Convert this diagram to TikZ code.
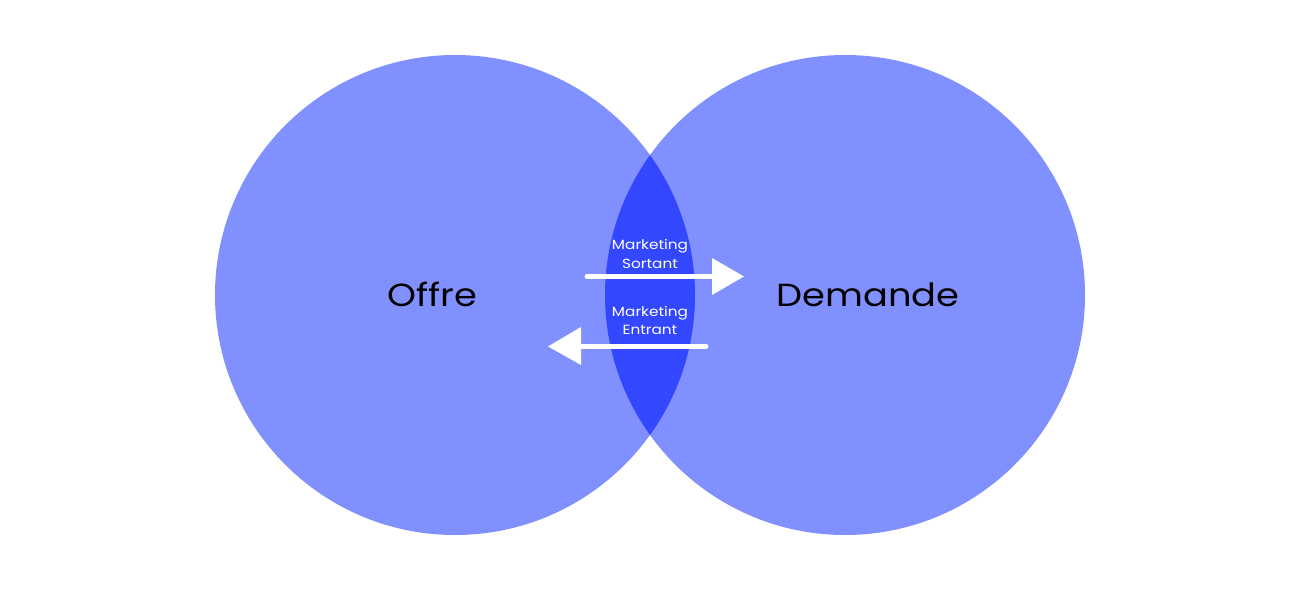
\documentclass[tikz,border=0pt]{standalone}
\usepackage{fontspec}
\setmainfont{Poppins}[FakeStretch=1.15]
\definecolor{circ}{RGB}{128,145,255}
\definecolor{lens}{RGB}{51,71,255}
\begin{document}
\begin{tikzpicture}[x=1pt,y=-1pt,
  bigtxt/.style={font=\fontsize{32}{38}\selectfont, text=black, inner sep=0pt, anchor=base},
  smalltxt/.style={font=\fontsize{13.3}{18}\selectfont, text=white, inner sep=0pt, anchor=base, align=center},
  shaft/.style={draw=white, line width=5pt},
  head/.style={fill=white, draw=none}]
\useasboundingbox (0,0) rectangle (1300,591);
\fill[white] (0,0) rectangle (1300,591);
\fill[circ] (455,295) circle[radius=240];
\fill[circ] (845,295) circle[radius=240];
\begin{scope}
  \clip (455,295) circle[radius=240];
  \fill[lens] (845,295) circle[radius=240];
\end{scope}
\node[bigtxt] (offre) at (432.5,306) {Offre};
\node[bigtxt] (demande) at (868,306) {Demande};
\node[smalltxt] (ms1) at (650,249) {Marketing};
\node[smalltxt] (ms2) at (650,268) {Sortant};
\node[smalltxt] (me1) at (650,316) {Marketing};
\node[smalltxt] (me2) at (650,334) {Entrant};
% outgoing arrow
\coordinate (a1s) at (587,276.5);
\coordinate (a1b) at (713,276.5);
\draw[shaft, line cap=round] (a1s) -- (a1b);
\fill[head] (712,258) -- (744,276.5) -- (712,295) -- cycle;
% incoming arrow
\coordinate (a2s) at (706,346.5);
\coordinate (a2b) at (580,346.5);
\draw[shaft, line cap=round] (a2s) -- (a2b);
\fill[head] (581,327) -- (548,346.5) -- (581,365) -- cycle;
\end{tikzpicture}
\end{document}
